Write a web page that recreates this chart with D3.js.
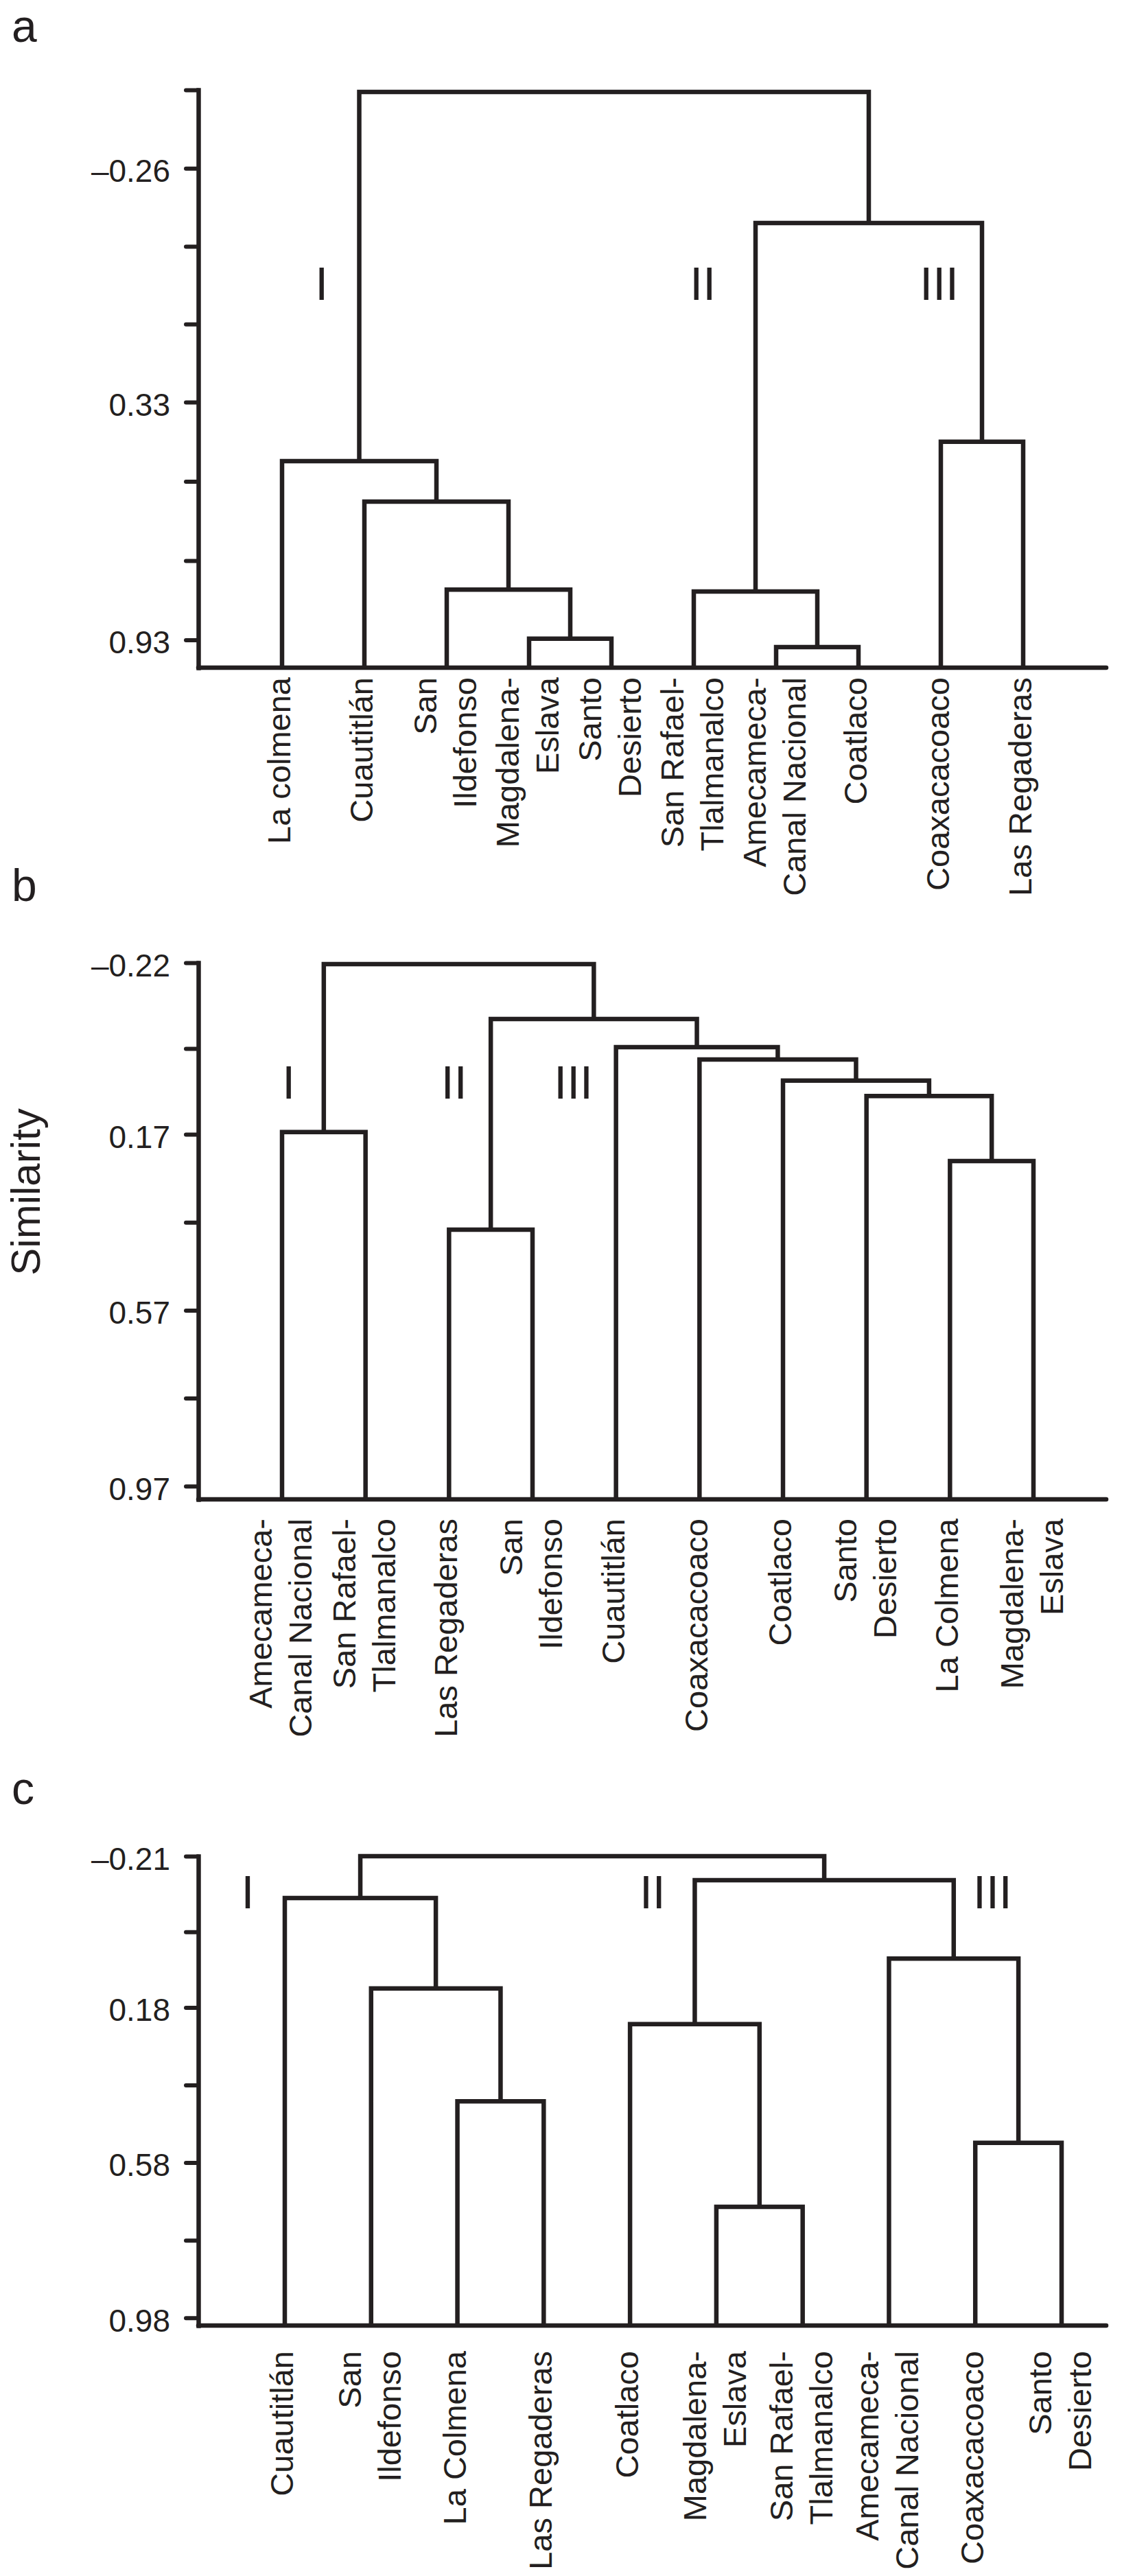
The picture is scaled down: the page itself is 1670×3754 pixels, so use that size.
<!DOCTYPE html>
<html><head><meta charset="utf-8">
<script src="https://cdn.jsdelivr.net/npm/d3@7"></script>
<style>
html,body{margin:0;padding:0;background:#fff;}
svg{display:block;}
</style></head><body>
<svg id="chart" width="1670" height="3754"></svg>
<script>
// ---------------- DATA ----------------
// Leaf level (all sites join the tree at similarity 1.0)
const leafLevel = 1.0;

// Panel a
const leavesA = ["La colmena", "Cuautitlán", "San\nIldefonso", "Magdalena-\nEslava", "Santo\nDesierto",
  "San Rafael-\nTlalmanalco", "Amecameca-\nCanal Nacional", "Coatlaco", "Coaxacacoaco", "Las Regaderas"];
// merges: [childA, childB, level]; ids >= 10 refer to earlier merges
const linkA = [[3,4,0.927],[2,10,0.803],[1,11,0.581],[0,12,0.479],[6,7,0.948],[5,14,0.808],[8,9,0.430],[15,16,-0.122],[13,17,-0.453]];
const majorTicksA = [-0.26, 0.33, 0.93];
const minorTicksA = [-0.458, -0.063, 0.133, 0.53, 0.73];
const clustersA = [["I",0.48,0.03],["II",5.11,0.03],["III",7.98,0.03]];

// Panel b
const leavesB = ["Amecameca-\nCanal Nacional", "San Rafael-\nTlalmanalco", "Las Regaderas", "San\nIldefonso", "Cuautitlán",
  "Coaxacacoaco", "Coatlaco", "Santo\nDesierto", "La Colmena", "Magdalena-\nEslava"];
const linkB = [[0,1,0.165],[2,3,0.387],[8,9,0.231],[7,12,0.083],[6,13,0.048],[5,14,0.0],[4,15,-0.028],[11,16,-0.092],[10,17,-0.217]];
const majorTicksB = [-0.22, 0.17, 0.57, 0.97];
const minorTicksB = [-0.025, 0.37, 0.77];
const clustersB = [["I",0.08,0.051],["II",2.06,0.051],["III",3.49,0.051]];

// Panel c
const leavesC = ["Cuautitlán", "San\nIldefonso", "La Colmena", "Las Regaderas", "Coatlaco", "Magdalena-\nEslava",
  "San Rafael-\nTlalmanalco", "Amecameca-\nCanal Nacional", "Coaxacacoaco", "Santo\nDesierto"];
const linkC = [[2,3,0.422],[1,10,0.131],[0,11,-0.102],[5,6,0.694],[4,13,0.223],[8,9,0.529],[7,15,0.054],[14,16,-0.148],[12,17,-0.21]];
const majorTicksC = [-0.21, 0.18, 0.58, 0.98];
const minorTicksC = [-0.015, 0.38, 0.78];
const clustersC = [["I",-0.43,-0.118],["II",4.26,-0.118],["III",8.2,-0.118]];

const yTitle = "Similarity";

// ---------------- DRAWING ----------------
const INK = "#231f20";
const FONT = "'Liberation Sans', Arial, Helvetica, sans-serif";
const svg = d3.select("#chart").attr("font-family", FONT);
svg.append("rect").attr("width",1670).attr("height",3754).attr("fill","#fff");

const axisX = 289, baseEnd = 1612;

const panels = [
  {letter:"a", letterY:61, leaves:leavesA, links:linkA, major:majorTicksA, minor:minorTicksA, clusters:clustersA,
   top:-0.458, yRange:[131,973], xRange:[411,1491], labelGap:14},
  {letter:"b", letterY:1313, leaves:leavesB, links:linkB, major:majorTicksB, minor:minorTicksB, clusters:clustersB,
   top:-0.22, yRange:[1403,2185], xRange:[411,1506], labelGap:28},
  {letter:"c", letterY:2629, leaves:leavesC, links:linkC, major:majorTicksC, minor:minorTicksC, clusters:clustersC,
   top:-0.21, yRange:[2705,3389], xRange:[415,1547], labelGap:37}
];

const fmt = v => (v < 0 ? "\u2013" : "") + Math.abs(v).toFixed(2);

panels.forEach(cfg => {
  const g = svg.append("g");
  const n = cfg.leaves.length;
  const x = d3.scaleLinear().domain([0, n-1]).range(cfg.xRange);
  const y = d3.scaleLinear().domain([cfg.top, leafLevel]).range(cfg.yRange);

  // panel letter
  g.append("text").attr("x",17).attr("y",cfg.letterY).attr("font-size",66).attr("fill",INK).text(cfg.letter);

  // axis
  const axis = d3.axisLeft(y)
    .tickValues([...cfg.major, ...cfg.minor])
    .tickSize(18).tickSizeOuter(0).tickPadding(23)
    .tickFormat(d => cfg.major.includes(d) ? fmt(d) : "");
  const ga = g.append("g").attr("transform",`translate(${axisX},0)`).call(axis)
    .attr("font-family", FONT).attr("font-size", 46);
  ga.select(".domain").attr("stroke",INK).attr("stroke-width",6.5).attr("stroke-linecap","square");
  ga.selectAll(".tick line").attr("stroke",INK).attr("stroke-width",6).attr("stroke-linecap","round");
  ga.selectAll(".tick text").attr("fill",INK).attr("dy","0.42em");

  // baseline
  g.append("line").attr("x1",axisX).attr("x2",baseEnd)
    .attr("y1",y(leafLevel)).attr("y2",y(leafLevel))
    .attr("stroke",INK).attr("stroke-width",6.5).attr("stroke-linecap","round");

  // dendrogram
  const nodeX = cfg.leaves.map((d,i) => x(i));
  const nodeH = cfg.leaves.map(() => leafLevel);
  cfg.links.forEach(([a,b,h]) => {
    const p = d3.path();
    p.moveTo(nodeX[a], y(nodeH[a]));
    p.lineTo(nodeX[a], y(h));
    p.lineTo(nodeX[b], y(h));
    p.lineTo(nodeX[b], y(nodeH[b]));
    g.append("path").attr("d", p.toString()).attr("fill","none")
      .attr("stroke",INK).attr("stroke-width",6.5).attr("stroke-linejoin","miter");
    nodeX.push((nodeX[a]+nodeX[b])/2);
    nodeH.push(h);
  });

  // cluster numerals
  cfg.clusters.forEach(([t,i,v]) => {
    g.append("text").attr("x",x(i)).attr("y",y(v)).attr("dy","0.36em")
      .attr("text-anchor","middle").attr("font-size",68).attr("fill",INK).text(t);
  });

  // leaf labels (rotated)
  const fs = 47;
  cfg.leaves.forEach((name,i) => {
    const lines = name.split("\n");
    const offs = lines.length === 1 ? [-4] : [-31, 27];
    lines.forEach((ln,k) => {
      const cx = x(i) + offs[k] + 0.34*fs;
      g.append("text")
        .attr("transform",`translate(${cx},${y(leafLevel)+cfg.labelGap}) rotate(-90)`)
        .attr("text-anchor","end").attr("font-size",fs).attr("fill",INK).text(ln);
    });
  });
});

// y title
svg.append("text").attr("transform","translate(58,1737) rotate(-90)")
  .attr("text-anchor","middle").attr("font-size",60).attr("fill",INK).text(yTitle);
</script>
</body></html>
